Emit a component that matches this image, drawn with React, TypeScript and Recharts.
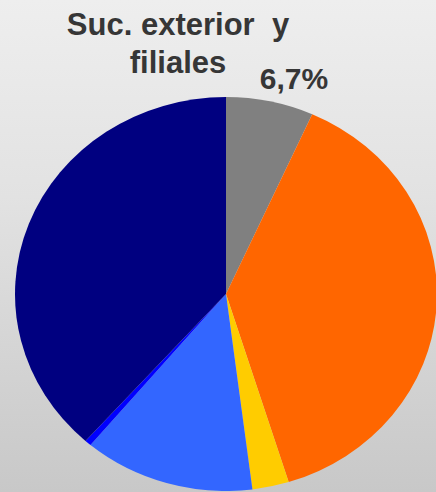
import React from 'react';
import { PieChart, Pie, Cell } from 'recharts';

const segments = ['Suc. exterior y filiales', 'Naranja', 'Amarillo', 'Azul claro', 'Azul', 'Azul marino'];
const shares = [6.7, 38.5, 2.8, 13.1, 0.5, 38.4];
const colors = ['#808080', '#FF6600', '#FFCC00', '#3366FF', '#0000FF', '#000080'];

const titleLines = ['Suc. exterior  y', 'filiales'];
const shareLabel = '6,7%';

const data = segments.map((name, i) => ({ name, value: shares[i] }));

const font = '"Liberation Sans", Arial, sans-serif';

export default function App() {
  return (
    <div
      style={{
        position: 'absolute',
        left: 0,
        top: 0,
        width: 436,
        height: 492,
        overflow: 'hidden',
        background: 'linear-gradient(to bottom, #eeeeee 0%, #e2e2e2 40%, #c8c8c8 100%)',
      }}
    >
      {/* pie is a little wider than tall in the original, so stretch it */}
      <div
        style={{
          position: 'absolute',
          left: 0,
          top: 0,
          transform: 'scaleX(1.071)',
          transformOrigin: '226px 294px',
        }}
      >
        <PieChart width={436} height={492} margin={{ top: 0, right: 0, bottom: 0, left: 0 }}>
          <Pie
            data={data}
            dataKey="value"
            cx={226}
            cy={294}
            outerRadius={197}
            startAngle={90}
            endAngle={-270}
            stroke="none"
            isAnimationActive={false}
          >
            {data.map((d, i) => (
              <Cell key={d.name} fill={colors[i]} />
            ))}
          </Pie>
        </PieChart>
      </div>
      <svg width={436} height={492} style={{ position: 'absolute', left: 0, top: 0 }}>
        <text x={178} y={35} textAnchor="middle" fontFamily={font} fontWeight="bold" fontSize={31} fill="#363636" style={{ whiteSpace: 'pre' }}>
          {titleLines[0]}
        </text>
        <text x={178} y={73} textAnchor="middle" fontFamily={font} fontWeight="bold" fontSize={31} fill="#363636">
          {titleLines[1]}
        </text>
        <text x={294} y={89} textAnchor="middle" fontFamily={font} fontWeight="bold" fontSize={30} fill="#363636">
          {shareLabel}
        </text>
      </svg>
    </div>
  );
}
